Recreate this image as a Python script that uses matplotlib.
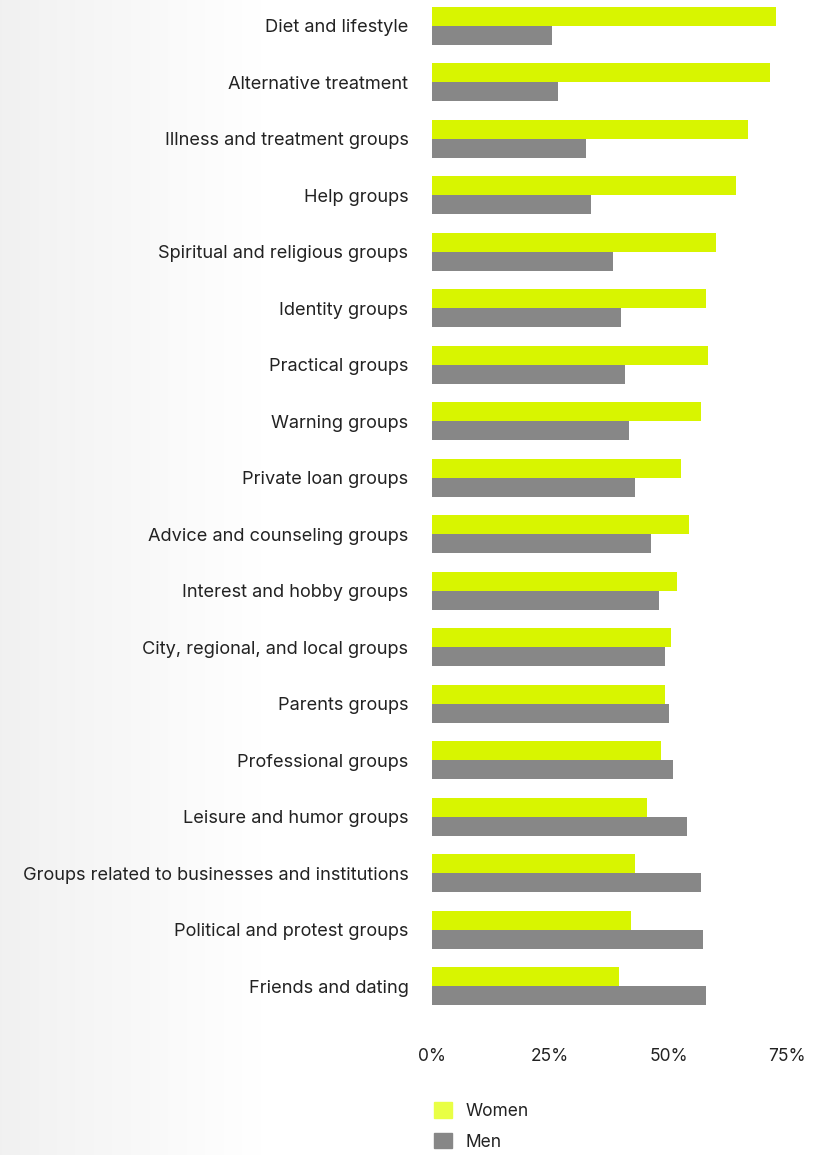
import numpy as np
import matplotlib
matplotlib.use("Agg")
import matplotlib.pyplot as plt
from matplotlib.patches import Patch

categories = [
    "Diet and lifestyle",
    "Alternative treatment",
    "Illness and treatment groups",
    "Help groups",
    "Spiritual and religious groups",
    "Identity groups",
    "Practical groups",
    "Warning groups",
    "Private loan groups",
    "Advice and counseling groups",
    "Interest and hobby groups",
    "City, regional, and local groups",
    "Parents groups",
    "Professional groups",
    "Leisure and humor groups",
    "Groups related to businesses and institutions",
    "Political and protest groups",
    "Friends and dating",
]
women = [72.7, 71.5, 66.8, 64.3, 60.0, 57.9, 58.4, 56.9, 52.6, 54.3,
         51.8, 50.5, 49.3, 48.4, 45.5, 42.9, 42.1, 39.5]
men = [25.4, 26.6, 32.6, 33.6, 38.3, 40.0, 40.8, 41.6, 42.9, 46.3,
       48.0, 49.3, 50.1, 51.0, 53.9, 56.9, 57.3, 57.9]
xticks = [0, 25, 50, 75]
xticklabels = ["0%", "25%", "50%", "75%"]
series_names = ["Women", "Men"]

plt.rcParams['font.family'] = ['Inter', 'DejaVu Sans']

W, H = 814, 1155
fig = plt.figure(figsize=(W / 100, H / 100), dpi=100)

# background gradient
bg = fig.add_axes([0, 0, 1, 1], zorder=-10)
grad = np.linspace(0, 1, 400)
vals = np.clip(grad / 0.32, 0, 1)
img = np.empty((2, 400, 3))
for c in range(3):
    img[:, :, c] = 0.945 + (1.0 - 0.945) * vals
bg.imshow(img, aspect='auto', extent=[0, 1, 0, 1])
bg.set_axis_off()

left = 432 / W
right = 787 / W
top = 1.0
bottom = 1 - 1012 / H
ax = fig.add_axes([left, bottom, right - left, top - bottom])
ax.set_facecolor('none')

y = np.arange(len(categories))
h = 0.336
ax.barh(y - h / 2, women, height=h, color='#d8f500', label=series_names[0])
ax.barh(y + h / 2, men, height=h, color='#878787', label=series_names[1])

ax.set_ylim(len(categories) - 1 + 0.46, -0.46)
ax.set_xlim(0, 75)
ax.set_yticks(y)
ax.set_yticklabels(categories, fontsize=13.1, color='#222222')
ax.set_xticks(xticks)
ax.set_xticklabels(xticklabels, fontsize=12.5, color='#222222')
ax.tick_params(axis='y', length=0, pad=17)
ax.tick_params(axis='x', length=0, pad=26)
for lbl in ax.get_yticklabels():
    lbl.set_va('center_baseline')
for s in ax.spines.values():
    s.set_visible(False)

handles = [Patch(color='#e9ff45'), Patch(color='#878787')]
leg = fig.legend(handles, series_names, loc='upper left',
                 bbox_to_anchor=(422 / W, 1 - 1090 / H), frameon=False,
                 fontsize=12.5, handlelength=1.0, handleheight=1.0,
                 handletextpad=0.8, labelspacing=0.75, borderaxespad=0.3)
for t in leg.get_texts():
    t.set_color('#222222')

fig.savefig("out.png", dpi=100)
